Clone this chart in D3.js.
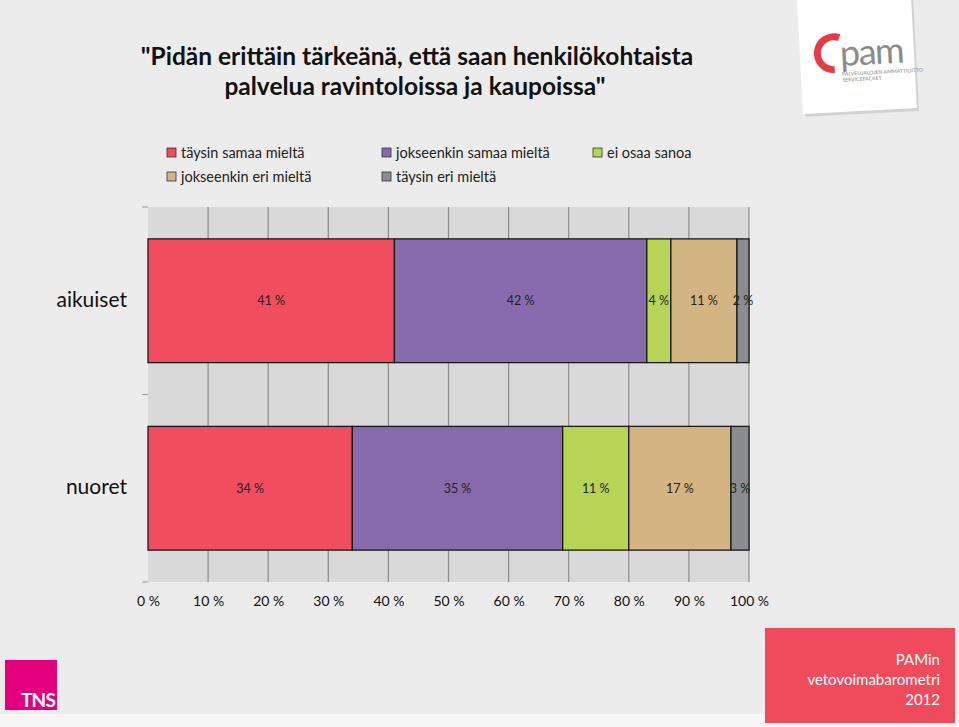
<!DOCTYPE html>
<html><head><meta charset="utf-8">
<script src="https://cdn.jsdelivr.net/npm/d3@7"></script>
<style>body{margin:0;background:#fff;}svg{display:block;}</style>
</head><body>
<svg id="c" width="959" height="727"></svg>
<script>
const categories = ["aikuiset", "nuoret"];
const seriesNames = ["täysin samaa mieltä", "jokseenkin samaa mieltä", "ei osaa sanoa", "jokseenkin eri mieltä", "täysin eri mieltä"];
const taysinSamaa = [41, 34];
const jokseenkinSamaa = [42, 35];
const eiOsaa = [4, 11];
const jokseenkinEri = [11, 17];
const taysinEri = [2, 3];
const tickValues = [0,10,20,30,40,50,60,70,80,90,100];
const tickLabels = ["0 %","10 %","20 %","30 %","40 %","50 %","60 %","70 %","80 %","90 %","100 %"];
const colors = ["#f04e5e", "#876bad", "#b6d556", "#d4b483", "#8a8c8f"];
const seriesValues = [taysinSamaa, jokseenkinSamaa, eiOsaa, jokseenkinEri, taysinEri];

const svg = d3.select("#c");
const font = "Lato, 'Open Sans', sans-serif";

// background
svg.append("rect").attr("width",959).attr("height",727).attr("fill","#ececec");
svg.append("rect").attr("x",0).attr("y",714).attr("width",959).attr("height",13).attr("fill","#f6f6f6");

// PAM logo card
const logo = svg.append("g").attr("transform","translate(858,55) rotate(-3)");
logo.append("rect").attr("x",-58).attr("y",-70).attr("width",114).attr("height",126).attr("fill","#d2d2d2").attr("transform","translate(2,3)");
logo.append("rect").attr("x",-58).attr("y",-70).attr("width",114).attr("height",126).attr("fill","#ffffff");
logo.append("path").attr("d", d3.arc()({innerRadius:13, outerRadius:20, startAngle:0.12*Math.PI, endAngle:-1.0*Math.PI}))
  .attr("transform","translate(-24,-3)").attr("fill","#e63a48");
logo.append("text").attr("x",-18).attr("y",10).attr("font-family",font).attr("font-size",36).attr("fill","#8a8a8a").attr("letter-spacing",-1.5).text("pam");
logo.append("text").attr("x",-17).attr("y",20).attr("font-family",font).attr("font-size",5.2).attr("fill","#888").text("PALVELUALOJEN AMMATTILIITTO");
logo.append("text").attr("x",-17).attr("y",26).attr("font-family",font).attr("font-size",5.2).attr("fill","#888").text("SERVICEFACKET");

// title
const title = svg.append("text").attr("font-family",font).attr("font-weight","bold").attr("font-size",24.5).attr("fill","#111").attr("text-anchor","middle");
title.append("tspan").attr("x",417).attr("y",65).text("\"Pidän erittäin tärkeänä, että saan henkilökohtaista");
title.append("tspan").attr("x",415).attr("y",95).text("palvelua ravintoloissa ja kaupoissa\"");

// legend
const legendPos = [[171,153],[386,153],[597,153],[171,177],[386,177]];
seriesNames.forEach((n,i)=>{
  const g = svg.append("g").attr("transform",`translate(${legendPos[i][0]},${legendPos[i][1]})`);
  g.append("rect").attr("x",-4).attr("y",-5).attr("width",9).attr("height",9).attr("fill",colors[i]).attr("stroke","#333").attr("stroke-width",0.8);
  g.append("text").attr("x",10).attr("y",5).attr("font-family",font).attr("font-size",14.5).attr("fill","#222").text(n);
});

// plot
const x = d3.scaleLinear().domain([0,100]).range([148,749]);
const y = d3.scaleBand().domain(categories).range([207,582]).paddingInner(0.34).paddingOuter(0.17);
const bandFull = d3.scaleBand().domain(categories).range([207,582]);

svg.append("rect").attr("x",x(0)).attr("y",207).attr("width",x(100)-x(0)).attr("height",375).attr("fill","#d9d9d9");
svg.append("g").selectAll("line").data(tickValues.slice(1)).join("line")
  .attr("x1",d=>x(d)).attr("x2",d=>x(d)).attr("y1",207).attr("y2",582).attr("stroke","#8c8c8c").attr("stroke-width",1.2);

// category axis ticks
const yTicks = [207, 394.5, 582];
svg.append("g").selectAll("line").data(yTicks).join("line")
  .attr("x1",142).attr("x2",148).attr("y1",d=>d).attr("y2",d=>d).attr("stroke","#999").attr("stroke-width",1);

// stacked bars
const stacked = categories.map((c,ci)=>{
  let acc=0;
  return seriesValues.map((s,si)=>{ const r={c, si, v:s[ci], x0:acc, x1:acc+s[ci]}; acc+=s[ci]; return r; });
}).flat();

svg.append("g").selectAll("rect").data(stacked).join("rect")
  .attr("x",d=>x(d.x0)).attr("y",d=>y(d.c)).attr("width",d=>x(d.x1)-x(d.x0)).attr("height",y.bandwidth())
  .attr("fill",d=>colors[d.si]).attr("stroke","#1a1a1a").attr("stroke-width",1.3);

svg.append("g").selectAll("text").data(stacked).join("text")
  .attr("x",d=>(x(d.x0)+x(d.x1))/2).attr("y",d=>y(d.c)+y.bandwidth()/2+4.5)
  .attr("text-anchor","middle").attr("font-family",font).attr("font-size",12.5).attr("fill","#222")
  .text(d=>d.v+" %");

// category labels
svg.append("g").selectAll("text").data(categories).join("text")
  .attr("x",127).attr("y",d=>bandFull(d)+bandFull.bandwidth()/2+6).attr("text-anchor","end")
  .attr("font-family",font).attr("font-size",21).attr("fill","#111").text(d=>d);

// x axis labels
const xAxis = d3.axisBottom(x).tickValues(tickValues).tickFormat((d,i)=>tickLabels[i]).tickSize(0).tickPadding(14);
const ax = svg.append("g").attr("transform","translate(0,582)").call(xAxis);
ax.select(".domain").remove();
ax.selectAll("text").attr("font-family",font).attr("font-size",14).attr("fill","#111");

// TNS logo
svg.append("rect").attr("x",5).attr("y",660).attr("width",52).attr("height",50).attr("fill","#e4007d");
svg.append("text").attr("x",55).attr("y",707).attr("text-anchor","end").attr("font-family",font).attr("font-weight","bold").attr("font-size",19).attr("fill","#fff").attr("letter-spacing",-0.8).text("TNS");

// bottom right box
svg.append("rect").attr("x",765).attr("y",628).attr("width",190).attr("height",95).attr("fill","#ef4b5c");
const bt = svg.append("text").attr("text-anchor","end").attr("font-family",font).attr("font-size",15).attr("fill","#fff");
bt.append("tspan").attr("x",940).attr("y",665).text("PAMin");
bt.append("tspan").attr("x",940).attr("y",685).text("vetovoimabarometri");
bt.append("tspan").attr("x",940).attr("y",705).text("2012");
</script>
</body></html>
